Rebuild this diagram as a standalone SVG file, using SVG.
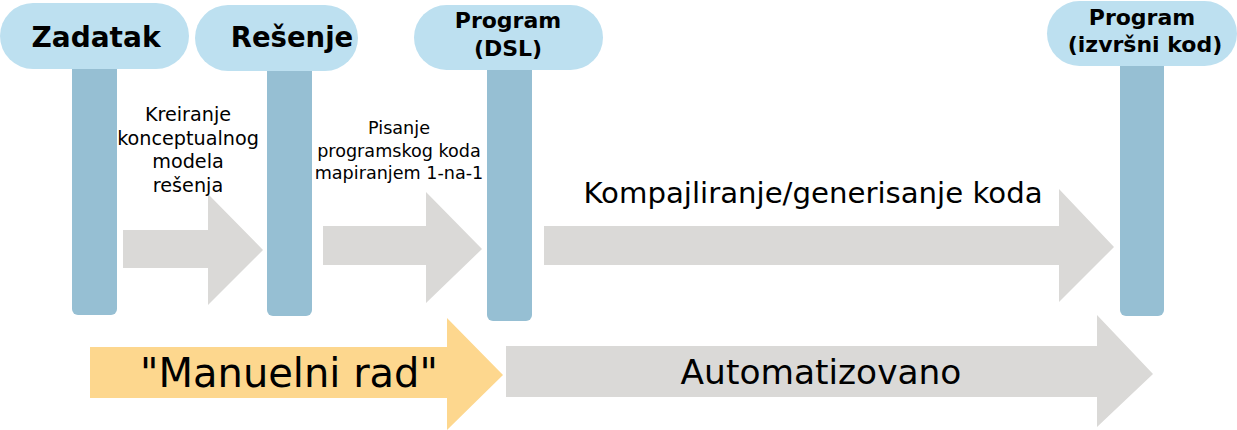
<svg xmlns="http://www.w3.org/2000/svg" width="1237" height="430" viewBox="0 0 1237 430">
<style>
.pill{fill:#bde0f0}
.bar{fill:#96bfd3}
.arr{fill:#dad9d7}
.man{fill:#fdd78e}
text{font-family:"DejaVu Sans",sans-serif;fill:#000;text-anchor:middle}
.b{font-weight:bold}
.s1{font-size:19.2px}
.s2{font-size:17.6px}
</style>
<g id="connectors">
<polygon class="arr" points="123,230 208,230 208,194 263,250 208,305 208,268 123,268"/>
<polygon class="arr" points="323,226 426,226 426,192 482,249 426,303 426,265 323,265"/>
<polygon class="arr" points="544,226 1059,226 1059,189 1114,247 1059,302 1059,265 544,265"/>
<text class="s1" x="188" y="121">Kreiranje</text>
<text class="s1" x="188" y="145">konceptualnog</text>
<text class="s1" x="188" y="168">modela</text>
<text class="s1" x="188" y="192">rešenja</text>
<text class="s2" x="399" y="134">Pisanje</text>
<text class="s2" x="399" y="157">programskog koda</text>
<text class="s2" x="399" y="179">mapiranjem 1-na-1</text>
<text x="813" y="203" font-size="29.2">Kompajliranje/generisanje koda</text>
</g>
<g id="manual">
<polygon class="man" points="90,347 447,347 447,318 503,375 447,430 447,398 90,398"/>
<text x="289" y="387" font-size="40">"Manuelni rad"</text>
</g>
<g id="auto">
<polygon class="arr" points="506,346 1097,346 1097,315 1153,374 1097,427 1097,397 506,397"/>
<text x="821" y="384" font-size="34.4">Automatizovano</text>
</g>
<g id="zadatak">
<rect class="bar" x="72" y="40" width="45" height="275" rx="6"/>
<rect class="pill" x="0" y="3" width="189" height="66" rx="33"/>
<text class="b" x="96" y="47" font-size="28">Zadatak</text>
</g>
<g id="resenje">
<rect class="bar" x="267" y="40" width="45" height="276" rx="6"/>
<rect class="pill" x="195" y="5" width="163" height="66" rx="33"/>
<text class="b" x="292" y="47" font-size="27.5">Rešenje</text>
</g>
<g id="program-dsl">
<rect class="bar" x="487" y="40" width="45" height="281" rx="6"/>
<rect class="pill" x="414" y="5" width="189" height="65" rx="32.5"/>
<text class="b" x="508" y="28" font-size="22">Program</text>
<text class="b" x="508" y="56" font-size="22">(DSL)</text>
</g>
<g id="program-izvrsni">
<rect class="bar" x="1120" y="40" width="44" height="276" rx="6"/>
<rect class="pill" x="1047" y="1" width="190" height="65" rx="32.5"/>
<text class="b" x="1142" y="25" font-size="22">Program</text>
<text class="b" x="1145" y="52" font-size="22">(izvršni kod)</text>
</g>
</svg>
